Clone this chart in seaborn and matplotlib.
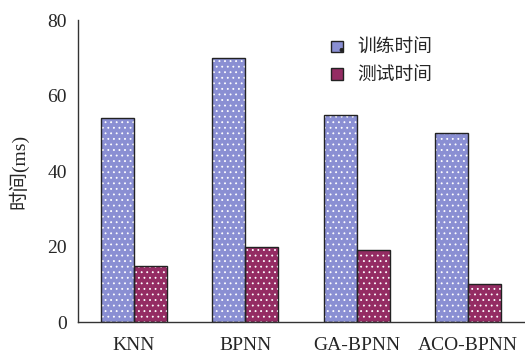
import pandas as pd
import matplotlib.pyplot as plt
import matplotlib.patches as mpatches
import seaborn as sns

models = ['KNN', 'BPNN', 'GA-BPNN', 'ACO-BPNN']
train_time = [54, 70, 55, 50]
test_time = [15, 20, 19, 10]
series_names = ['训练时间', '测试时间']
colors = ['#8a8fd3', '#942c63']

df = pd.DataFrame({
    'model': models * 2,
    'time': train_time + test_time,
    'series': [series_names[0]] * 4 + [series_names[1]] * 4,
})

sns.set_style('white')
plt.rcParams['font.family'] = ['Liberation Serif', 'Noto Sans CJK SC']
plt.rcParams['hatch.color'] = 'white'
plt.rcParams['hatch.linewidth'] = 0.6

fig = plt.figure(figsize=(5.25, 3.54), dpi=100)
ax = fig.add_axes([0.149, 0.090, 0.849, 0.853])

sns.barplot(data=df, x='model', y='time', hue='series', palette=colors,
            width=0.59, edgecolor='white', linewidth=0, saturation=1, ax=ax)

# white dot hatch, then black outlines on top
for p in list(ax.patches):
    if p.get_height() > 0:
        p.set_hatch('...')
        ax.add_patch(mpatches.Rectangle(p.get_xy(), p.get_width(), p.get_height(),
                                        fill=False, edgecolor='#222222', linewidth=1.0, zorder=3))

ax.set_xlim(-0.5, 3.5)
ax.set_ylim(0, 80)
ax.set_yticks([0, 20, 40, 60, 80])
ax.set_xticks([0.5, 1.5, 2.5], minor=True)
ax.tick_params(axis='x', which='major', length=0, labelsize=14, pad=11)
ax.tick_params(axis='x', which='minor', direction='in', length=4, width=1, color='#333333')
ax.tick_params(axis='y', direction='in', length=4, width=1, color='#333333', labelsize=14, pad=8)
for s in ['top', 'right']:
    ax.spines[s].set_visible(False)
for s in ['left', 'bottom']:
    ax.spines[s].set_color('#333333')
    ax.spines[s].set_linewidth(1)

ax.set_xlabel('')
ax.set_ylabel('时间(ms)', fontsize=14, labelpad=14)

handles = [mpatches.Patch(facecolor=c, edgecolor='#222222', hatch='.', linewidth=1) for c in colors]
leg = ax.legend(handles, series_names, loc='upper left', bbox_to_anchor=(0.53, 0.99),
                frameon=False, fontsize=13.5, handlelength=0.6, handleheight=0.6,
                handletextpad=0.8, labelspacing=0.55)

fig.savefig('out.png', dpi=100)
